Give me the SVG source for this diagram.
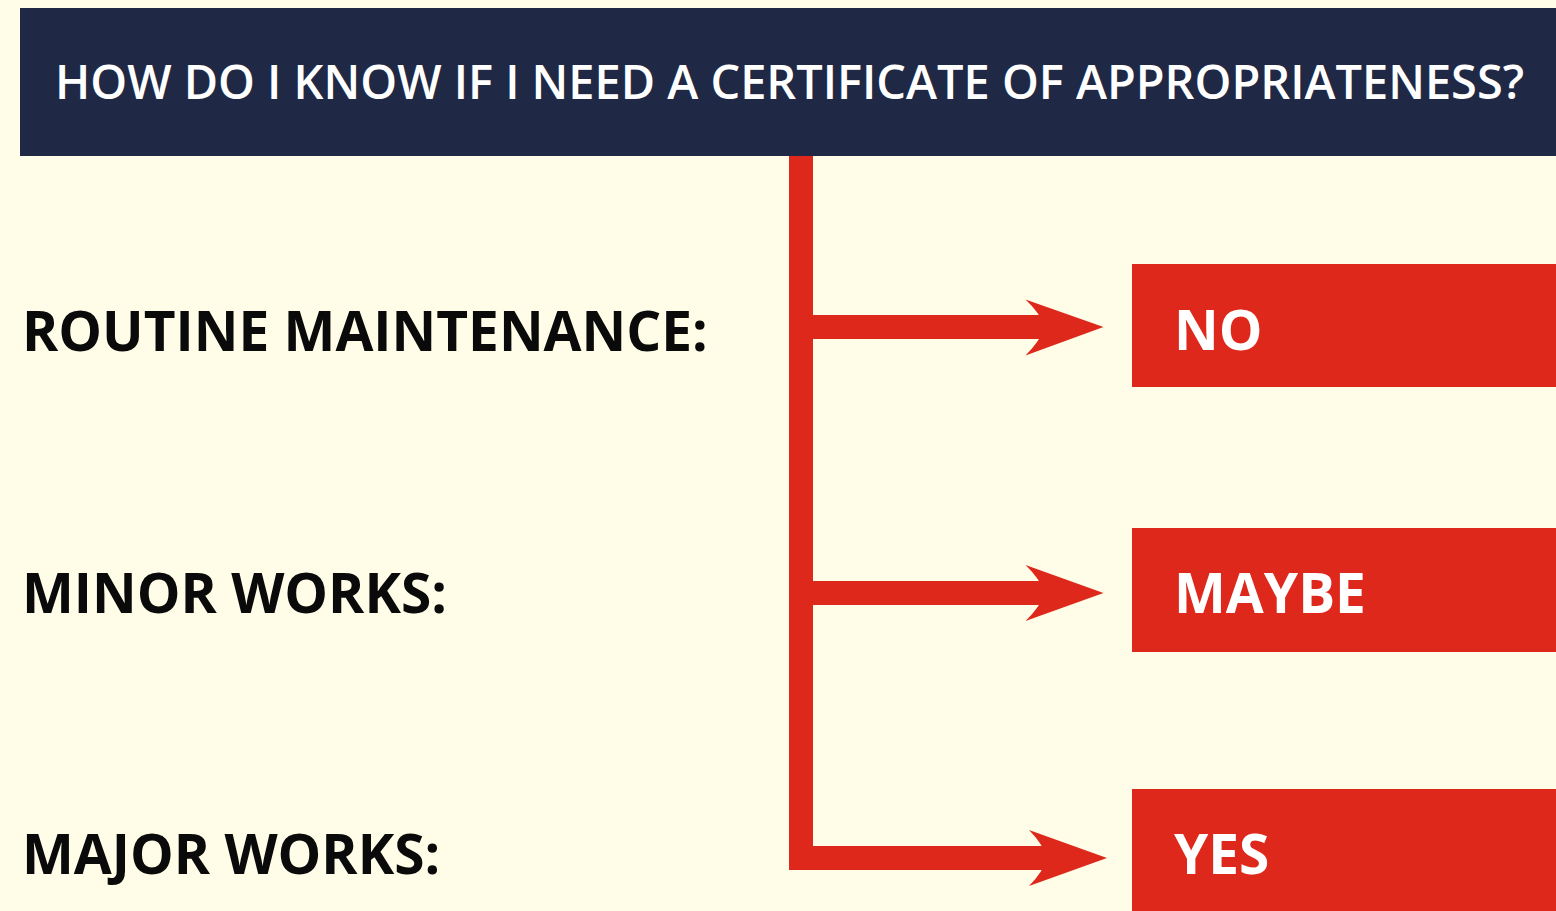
<svg xmlns="http://www.w3.org/2000/svg" width="1556" height="911" viewBox="0 0 1556 911">
  <defs>
    <style>
      .bg { fill: #FFFDE8; }
      .header { fill: #1F2945; }
      .title { font-family: "Open Sans", "Liberation Sans", sans-serif; font-weight: 600; font-size: 46.9px; fill: #FFFFFF; }
      .label { font-family: "Open Sans", "Liberation Sans", sans-serif; font-weight: bold; font-size: 55px; fill: #0A0A0A; }
      .ans-box { fill: #DF281C; }
      .ans-text { font-family: "Open Sans", "Liberation Sans", sans-serif; font-weight: bold; font-size: 55px; fill: #FFFFFF; }
      .conn { fill: #DF281C; }
    </style>
  </defs>
  <rect class="bg" x="0" y="0" width="1556" height="911"/>

  <g id="header">
    <rect class="header" x="20" y="8" width="1536" height="148"/>
    <text class="title" x="55" y="98.5">HOW DO I KNOW IF I NEED A CERTIFICATE OF APPROPRIATENESS?</text>
  </g>

  <g id="connectors">
    <rect class="conn" x="789" y="156" width="24" height="714"/>
    <!-- arrow 1 -->
    <rect class="conn" x="813" y="315" width="235" height="24"/>
    <path class="conn" d="M1025.5,299.5 L1103.5,327 L1025.5,355.5 Q1040,341 1045,327 Q1040,313 1025.5,299.5 Z"/>
    <!-- arrow 2 -->
    <rect class="conn" x="813" y="581" width="235" height="24"/>
    <path class="conn" d="M1025.5,565 L1103.5,593 L1025.5,621 Q1040,607 1045,593 Q1040,579 1025.5,565 Z"/>
    <!-- arrow 3 -->
    <rect class="conn" x="813" y="846" width="235" height="24"/>
    <path class="conn" d="M1029,830 L1107,858 L1029,886 Q1043,872 1047,858 Q1043,844 1029,830 Z"/>
  </g>

  <g id="label-routine">
    <text class="label" x="22" y="351">ROUTINE MAINTENANCE:</text>
  </g>
  <g id="label-minor">
    <text class="label" x="22" y="613">MINOR WORKS:</text>
  </g>
  <g id="label-major">
    <text class="label" x="22" y="874">MAJOR WORKS:</text>
  </g>

  <g id="answer-no">
    <rect class="ans-box" x="1132" y="264" width="424" height="123"/>
    <text class="ans-text" x="1174" y="350">NO</text>
  </g>
  <g id="answer-maybe">
    <rect class="ans-box" x="1132" y="528" width="424" height="124"/>
    <text class="ans-text" x="1174" y="613">MAYBE</text>
  </g>
  <g id="answer-yes">
    <rect class="ans-box" x="1132" y="789" width="424" height="122"/>
    <text class="ans-text" x="1174" y="874">YES</text>
  </g>
</svg>
